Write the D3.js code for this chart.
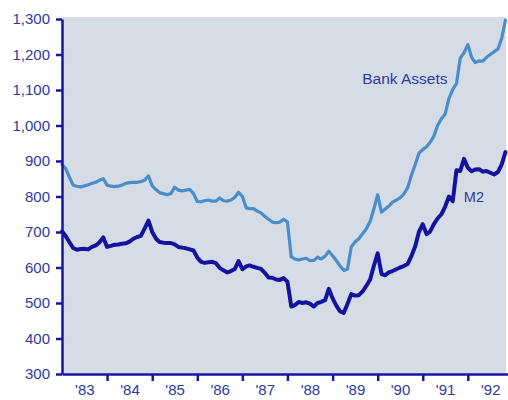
<!DOCTYPE html>
<html>
<head>
<meta charset="utf-8">
<script src="https://cdn.jsdelivr.net/npm/d3@7"></script>
<style>
  html, body { margin: 0; padding: 0; background: #ffffff; }
  svg { display: block; }
  text { font-family: "Liberation Sans", Arial, Helvetica, sans-serif; }
</style>
</head>
<body>
<svg id="chart" width="508" height="400"></svg>
<script>
// Monthly series, January 1983 through November 1992 (billions of dollars)
const startMonth = new Date(1983, 0, 1);

const bankAssets = [
  890, 878, 855, 832, 829, 827, 830, 833, 837, 840, 846, 850,
  832, 829, 828, 829, 832, 837, 839, 840, 840, 842, 846, 858,
  830, 819, 811, 808, 805, 808, 826, 818, 816, 818, 820, 808,
  786, 785, 788, 790, 787, 787, 796, 788, 787, 790, 798, 812,
  800, 768, 766, 766, 759, 754, 744, 736, 728, 726, 728, 736,
  728, 630, 624, 621, 624, 626, 619, 620, 629, 624, 632, 646,
  633, 619, 605, 592, 595, 658, 672, 681, 695, 709, 730, 765,
  805, 756, 764, 773, 784, 790, 796, 807, 825, 860, 890, 922,
  932, 940, 952, 970, 1000, 1019, 1032, 1076, 1102, 1118, 1190, 1205,
  1228, 1192, 1177, 1182, 1181, 1192, 1200, 1208, 1215, 1245, 1297
];

const m2 = [
  702, 688, 672, 655, 650, 652, 653, 651, 658, 662, 671, 685,
  658, 661, 664, 665, 667, 668, 673, 681, 686, 689, 710, 732,
  700, 681, 672, 670, 669, 669, 665, 658, 656, 654, 651, 648,
  628, 616, 613, 615, 616, 612, 599, 592, 586, 590, 596, 618,
  595, 603, 606, 602, 599, 596, 585, 572, 571, 566, 565, 570,
  560, 490, 494, 503, 500, 502, 498, 490, 500, 503, 508, 540,
  513, 492, 477, 472, 497, 525, 521, 522, 533, 548, 566, 605,
  640, 582, 578, 586, 590, 595, 600, 604, 610, 632, 660, 700,
  722, 694, 701, 722, 738, 750, 771, 800, 787, 874, 872, 906,
  881, 871, 876, 877, 870, 872, 867, 862, 869, 890, 925
];

const yTicks = [300, 400, 500, 600, 700, 800, 900, 1000, 1100, 1200, 1300];
const yearLabels = ["'83", "'84", "'85", "'86", "'87", "'88", "'89", "'90", "'91", "'92"];

const seriesLabels = [
  { name: "Bank Assets", series: bankAssets, month: 94, offset: [-53, -81], size: 15.5 },
  { name: "M2", series: m2, month: 108, offset: [-4, 34], size: 14.5 }
];

const ink = "#1616a0";
const labelInk = "#2b3c9e";
const assetsColor = "#4a8dcb";
const m2Color = "#1313a0";

const svg = d3.select("#chart");

const x = d3.scaleTime()
  .domain([new Date(1983, 0, 1), new Date(1993, 0, 1)])
  .range([62, 513]);

const y = d3.scaleLinear()
  .domain([300, 1300])
  .range([374, 19]);

const dateOf = i => d3.timeMonth.offset(startMonth, i);

// plot panel
svg.append("rect")
  .attr("x", x.range()[0])
  .attr("y", y(1300) - 2)
  .attr("width", 506 - x.range()[0])
  .attr("height", y(300) - y(1300) + 2)
  .attr("fill", "#d6dce5");

// series lines
const line = d3.line()
  .x((d, i) => x(dateOf(i)))
  .y(d => y(d))
  .curve(d3.curveLinear);

svg.append("path")
  .datum(bankAssets)
  .attr("fill", "none")
  .attr("stroke", assetsColor)
  .attr("stroke-width", 3.2)
  .attr("stroke-linejoin", "round")
  .attr("stroke-linecap", "round")
  .attr("d", line);

svg.append("path")
  .datum(m2)
  .attr("fill", "none")
  .attr("stroke", m2Color)
  .attr("stroke-width", 4)
  .attr("stroke-linejoin", "round")
  .attr("stroke-linecap", "round")
  .attr("d", line);

// y axis
const yAxis = svg.append("g")
  .attr("transform", `translate(${x.range()[0]},0)`)
  .call(d3.axisLeft(y)
    .tickValues(yTicks)
    .tickFormat(d3.format(","))
    .tickSize(6)
    .tickSizeOuter(0)
    .tickPadding(6));

yAxis.select(".domain").attr("stroke", ink).attr("stroke-width", 2.5);
yAxis.selectAll(".tick line").attr("stroke", ink).attr("stroke-width", 2.5);
yAxis.selectAll(".tick text")
  .attr("fill", labelInk)
  .attr("font-size", 15)
  .attr("font-family", "Liberation Sans, Arial, sans-serif");

// x axis: year boundaries
const yearStarts = d3.range(1984, 1993).map(yr => new Date(yr, 0, 1));
const xAxis = svg.append("g")
  .attr("transform", `translate(0,${y(300)})`)
  .call(d3.axisBottom(x)
    .tickValues(yearStarts)
    .tickFormat("")
    .tickSize(7)
    .tickSizeOuter(0));

xAxis.select(".domain").attr("stroke", ink).attr("stroke-width", 2.5);
xAxis.selectAll(".tick line").attr("stroke", ink).attr("stroke-width", 2.5);

// x axis: year labels centred in each year
const midYears = d3.range(1983, 1993).map(yr => new Date(yr, 6, 1));
const xLabels = svg.append("g")
  .attr("transform", `translate(0,${y(300)})`)
  .call(d3.axisBottom(x)
    .tickValues(midYears)
    .tickFormat((d, i) => yearLabels[i])
    .tickSize(0)
    .tickPadding(10));

xLabels.select(".domain").remove();
xLabels.selectAll(".tick text")
  .attr("fill", labelInk)
  .attr("font-size", 15)
  .attr("font-family", "Liberation Sans, Arial, sans-serif");

// series names
svg.selectAll(".series-label")
  .data(seriesLabels)
  .join("text")
  .attr("class", "series-label")
  .attr("x", d => x(dateOf(d.month)) + d.offset[0])
  .attr("y", d => y(d.series[d.month]) + d.offset[1])
  .attr("fill", labelInk)
  .attr("font-size", d => d.size)
  .text(d => d.name);
</script>
</body>
</html>
